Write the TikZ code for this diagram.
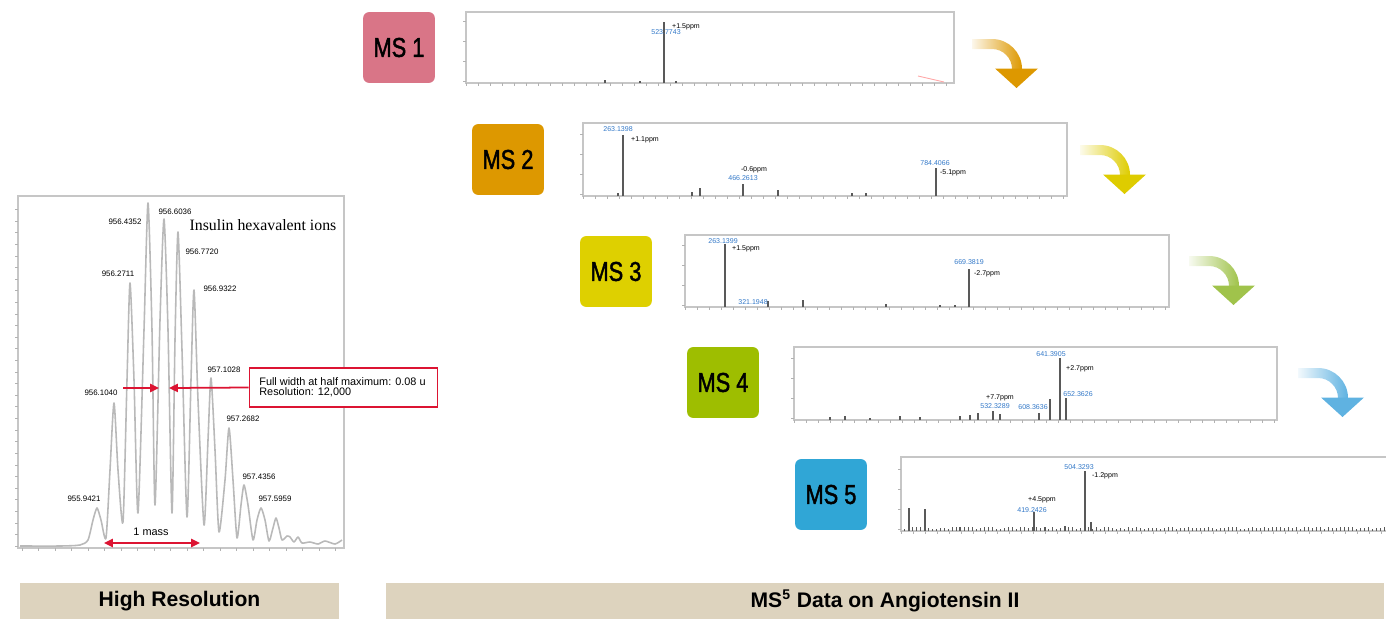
\documentclass[tikz,border=0pt]{standalone}
\usepackage{fontspec}
\setmainfont{Liberation Sans}
\newfontfamily\inslfont{Liberation Serif}
\newfontfamily\msfont[FakeStretch=0.8, FakeBold=1.5]{Liberation Sans}
\usepackage{tikz}
\usetikzlibrary{arrows.meta}
\definecolor{msone}{RGB}{217,117,135}
\definecolor{mstwo}{RGB}{221,152,0}
\definecolor{msthree}{RGB}{222,208,0}
\definecolor{msfour}{RGB}{158,190,0}
\definecolor{msfive}{RGB}{48,166,214}
\definecolor{arrone}{RGB}{221,152,0}
\definecolor{arrtwo}{RGB}{222,204,0}
\definecolor{arrthree}{RGB}{160,195,75}
\definecolor{arrfour}{RGB}{95,178,225}
\definecolor{mzblue}{RGB}{50,120,200}
\definecolor{annred}{RGB}{220,20,50}
\definecolor{barbeige}{RGB}{221,211,190}
\tikzstyle{msbox}=[rounded corners=3.4pt, minimum width=40.8pt, minimum height=40.3pt, inner sep=0pt, font=\msfont\fontsize{15.5}{16}\selectfont]
\tikzstyle{frame}=[draw=gray!45, line width=0.7pt]
\tikzstyle{axis}=[draw=gray!80!black, line width=0.9pt]
\tikzstyle{tick}=[draw=gray!60, line width=0.35pt]
\tikzstyle{peak}=[draw=gray!70!black, line width=0.6pt]
\tikzstyle{trace}=[draw=gray!55, line width=0.9pt, line join=round]
\tikzstyle{mz}=[inner sep=0pt, text=mzblue, font=\fontsize{4}{4.5}\selectfont]
\tikzstyle{ppm}=[inner sep=0pt, font=\fontsize{4}{4.5}\selectfont]
\tikzstyle{isolbl}=[inner sep=0pt, font=\fontsize{4.5}{5}\selectfont]
\tikzstyle{ann}=[draw=annred, line width=1pt]
\tikzstyle{tip}=[-{Triangle[length=5pt,width=4.6pt]}]
\tikzstyle{caption}=[fill=barbeige, inner sep=0pt, minimum height=20.4pt, font=\bfseries\fontsize{12}{14}\selectfont]
\begin{document}
\begin{tikzpicture}[x=0.02cm, y=-0.02cm]
    \useasboundingbox (0,0) rectangle (1386,619);
    % high resolution spectrum
    \draw[frame] (18,196) rectangle (344,548);
    \foreach \j in {0,...,29}
      \draw[tick] (15,{546-11.6*\j}) -- (18,{546-11.6*\j});
    \foreach \i in {0,...,19}
      \draw[tick] ({22+16.5*\i},548) -- ({22+16.5*\i},551);
    \draw[trace] plot[smooth, tension=0.4] coordinates {
      (20,546) (60,546) (80,545) (88,540) (93,520) (97,508) (101,520) (106,538)
      (110,470) (114,403) (118,470) (123,522) (127,380) (130,283) (134,380) (138,513)
      (144,330) (148,203) (152,330) (155,505) (160,320) (164,219) (168,330) (172,513)
      (175,340) (178,232) (182,350) (187,517) (191,380) (194,290) (198,400) (204,525)
      (208,440) (211,378) (215,450) (219,532) (225,480) (229,428) (233,480) (237,538)
      (241,505) (244,485) (248,505) (253,540) (257,520) (261,508) (265,520) (269,541)
      (273,528) (276,518) (279,528) (282,540) (287,536) (290,537) (294,542) (298,537)
      (302,543) (310,542) (318,544) (325,541) (335,544) (342,540)};
    \node[isolbl] (p1) at (84,499) {955.9421};
    \node[isolbl] (p2) at (101,393) {956.1040};
    \node[isolbl] (p3) at (118,274) {956.2711};
    \node[isolbl] (p4) at (125,222) {956.4352};
    \node[isolbl] (p5) at (175,212) {956.6036};
    \node[isolbl] (p6) at (202,252) {956.7720};
    \node[isolbl] (p7) at (220,289) {956.9322};
    \node[isolbl] (p8) at (224,370) {957.1028};
    \node[isolbl] (p9) at (243,419) {957.2682};
    \node[isolbl] (p10) at (259,477) {957.4356};
    \node[isolbl] (p11) at (275,499) {957.5959};
    \node[inner sep=0pt, font=\inslfont\fontsize{9}{10}\selectfont] (ions) at (263,225) {Insulin hexavalent ions};
    % half width and one mass
    \node[ann, fill=white, minimum width=107pt, minimum height=22pt, inner sep=0pt] (fwhm) at (343.5,387.5) {};
    \node[anchor=west, inner sep=0pt, align=left, font=\fontsize{6.2}{5.8}\selectfont] (fwtxt) at (259,387.5)
      {Full width at half maximum: 0.08 u\\Resolution: 12,000};
    \coordinate (hwS) at (123,388);
    \coordinate (hwL) at (159,388);
    \coordinate (hwR) at (169,388);
    \draw[ann, tip] (hwS) -- (hwL);
    \draw[ann, tip] (fwhm.west) -- (hwR);
    \coordinate (m1) at (104,543);
    \coordinate (m2) at (200,543);
    \draw[ann, {Triangle[length=5pt,width=4.6pt]}-{Triangle[length=5pt,width=4.6pt]}] (m1) -- (m2);
    \node[inner sep=0pt, font=\fontsize{6.2}{7}\selectfont] (mass) at (151,532) {1 mass};
    % ms panels
    \foreach \l/\t/\r/\b in {466/12/954/83, 583/123/1067/196, 685/235/1169/307, 794/347/1277/420, 901/457/1392/531}{
      \draw[frame] (\l,\b) rectangle (\r,\t);
      \foreach \i in {0,...,40}
        \draw[tick] ({\l+12*\i},\b) -- ({\l+12*\i},\b+3);
      \foreach \j in {0,...,3}
        \draw[tick] (\l-3,{\b-2-20*\j}) -- (\l,{\b-2-20*\j});
    }
    \foreach \n/\x/\y/\c in {1/363/12/msone, 2/472/124/mstwo, 3/580/236/msthree, 4/687/347/msfour, 5/795/459/msfive}
      \node[msbox, fill=\c] (ms\n) at (\x+36,\y+35.5) {MS \n};
    % MS 1
    \foreach \x/\h in {664/22, 605/80, 640/81, 676/81}
      \draw[peak] (\x,83) -- (\x,\h);
    \draw[red!35, line width=0.5pt] (918,76) -- (944,82);
    \node[mz] (a1) at (666,32) {523.7743};
    \node[ppm] (b1) at (686,27) {+1.5ppm};
    % MS 2
    \foreach \x/\h in {623/135, 743/184, 936/168, 700/188, 778/190, 692/192, 852/193, 866/193, 618/193}
      \draw[peak] (\x,196) -- (\x,\h);
    \node[mz] (a2) at (618,129) {263.1398};
    \node[ppm] (b2) at (645,140) {+1.1ppm};
    \node[ppm] (c2) at (754,170) {-0.6ppm};
    \node[mz] (d2) at (743,178) {466.2613};
    \node[mz] (e2) at (935,163) {784.4066};
    \node[ppm] (f2) at (953,173) {-5.1ppm};
    % MS 3
    \foreach \x/\h in {725/244, 969/269, 768/301, 803/300, 886/304, 940/305, 955/305}
      \draw[peak] (\x,307) -- (\x,\h);
    \draw[peak, line width=1.1pt] (969,307) -- (969,287);
    \node[mz] (a3) at (723,241) {263.1399};
    \node[ppm] (b3) at (746,249) {+1.5ppm};
    \node[mz] (c3) at (969,262) {669.3819};
    \node[ppm] (d3) at (987,274) {-2.7ppm};
    \node[mz] (e3) at (753,302) {321.1948};
    % MS 4
    \foreach \x/\h in {1060/358, 1066/398, 1050/399, 1039/413, 993/411, 978/413, 970/415, 1000/414, 830/417, 845/416, 870/418, 900/416, 920/417, 960/416}
      \draw[peak] (\x,420) -- (\x,\h);
    \node[mz] (a4) at (1051,354) {641.3905};
    \node[ppm] (b4) at (1080,369) {+2.7ppm};
    \node[mz] (c4) at (1078,394) {652.3626};
    \node[mz] (d4) at (1033,407) {608.3636};
    \node[mz] (e4) at (995,406) {532.3289};
    \node[ppm] (f4) at (1000,398) {+7.7ppm};
    % MS 5
    \pgfmathsetseed{7}
    \foreach \x in {904,908,...,1384}
      \draw[peak, line width=0.4pt] (\x,531) -- (\x,{529-2.5*rnd});
    \foreach \x/\h in {1085/471, 1034/512, 909/508, 925/509, 1091/522, 1065/526, 1045/527, 960/527}
      \draw[peak] (\x,531) -- (\x,\h);
    \node[mz] (a5) at (1079,467) {504.3293};
    \node[ppm] (b5) at (1105,476) {-1.2ppm};
    \node[mz] (c5) at (1032,510) {419.2426};
    \node[ppm] (d5) at (1042,500) {+4.5ppm};
    % turning arrows
    \foreach \sx/\ty/\c in {972/39/arrone, 1080/145/arrtwo, 1189/256/arrthree, 1298/368/arrfour}{
      \shade[left color=\c!8, right color=\c] (\sx,\ty) -- (\sx+20,\ty)
        .. controls (\sx+36.6,\ty) and (\sx+50,\ty+13.4) .. (\sx+50,\ty+30)
        -- (\sx+40,\ty+30) .. controls (\sx+40,\ty+19) and (\sx+31,\ty+10) .. (\sx+20,\ty+10)
        -- (\sx,\ty+10) -- cycle;
      \fill[\c] (\sx+23,\ty+29.5) -- (\sx+66,\ty+29.5) -- (\sx+44.5,\ty+49) -- cycle;
    }
    % captions
    \node[caption, minimum width=182pt] (capL) at (179.5,601) {High Resolution};
    \node[caption, minimum width=568pt] (capR) at (885,601) {MS\textsuperscript{5} Data on Angiotensin II};
\end{tikzpicture}
\end{document}
